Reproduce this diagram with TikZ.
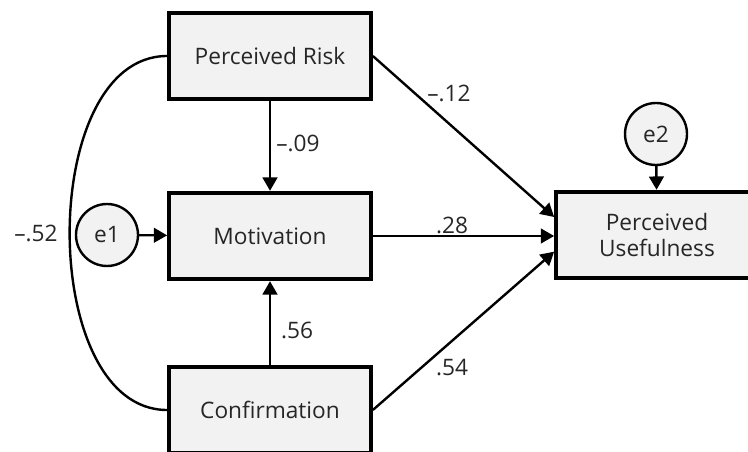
\documentclass[tikz,border=0pt]{standalone}
\usepackage{fontspec}
\setmainfont{Open Sans}
\usetikzlibrary{arrows.meta}
\definecolor{boxgray}{HTML}{F2F2F2}
\begin{document}
\begin{tikzpicture}[x=0.75pt,y=-0.75pt,
        font=\fontsize{17}{20}\selectfont,
        var/.style={draw,line width=2.8pt,fill=boxgray,text=black!85,minimum width=151.5pt,minimum height=65pt,align=center},
        err/.style={circle,draw,line width=1.8pt,fill=boxgray,text=black!85,minimum size=46.5pt,inner sep=0pt},
        regr/.style={-{Triangle[length=10pt,width=11pt]},line width=1.8pt},
        coef/.style={text=black!85,inner sep=0pt}]
    \clip (0,0) rectangle (748,452);
    % variables
    \node[var] (risk) at (270,56) {Perceived Risk};
    \node[var] (motiv) at (270,236) {Motivation};
    \node[var] (confirm) at (270,410) {Confirmation};
    \node[var] (useful) at (657,235) {Perceived\\Usefulness};
    % errors
    \node[err] (e1) at (107,235) {e1};
    \node[err] (e2) at (656,134) {e2};
    % paths
    \draw[regr] (risk) -- (motiv);
    \draw[regr] (confirm) -- (motiv);
    \draw[regr] (e1) -- (motiv);
    \draw[regr] (e2) -- (useful);
    \draw[regr] (risk.east) -- ([yshift=13.5pt]useful.west);
    \draw[regr] (motiv.east) -- (motiv.east -| useful.west);
    \draw[regr] (confirm.east) -- ([yshift=-12.5pt]useful.west);
    \draw[line width=1.8pt] (risk.west) .. controls +(-130,0) and +(-130,0) .. (confirm.west);
    % coefficients
    \node[coef] (c1) at (298,143) {\textendash.09};
    \node[coef] (c2) at (297,330) {.56};
    \node[coef] (c3) at (449,93) {\textendash.12};
    \node[coef] (c4) at (452,225) {.28};
    \node[coef] (c5) at (452,368) {.54};
    \node[coef] (c6) at (36,233) {\textendash.52};
\end{tikzpicture}
\end{document}
